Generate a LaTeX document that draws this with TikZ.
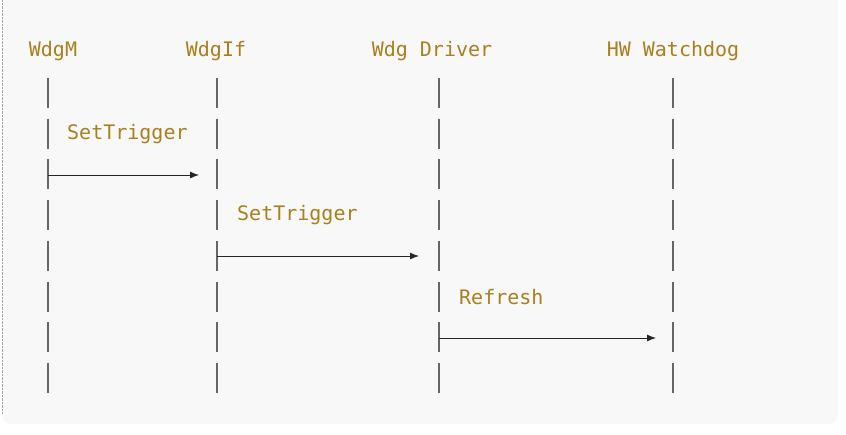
\documentclass[tikz,border=0pt]{standalone}
\usepackage{fontspec}
\setmonofont{DejaVu Sans Mono}
\usetikzlibrary{arrows.meta}
\definecolor{lbl}{HTML}{A8801E}
\definecolor{bg}{HTML}{F8F8F8}
\tikzset{
  actor/.style={font=\ttfamily\fontsize{20}{24}\selectfont, text=lbl, inner sep=0pt},
  msg/.style={font=\ttfamily\fontsize{20}{24}\selectfont, text=lbl, inner sep=0pt, anchor=west},
  life/.style={line width=1.6pt, draw=black!60, dash pattern=on 30pt off 10.7pt},
  call/.style={line width=0.9pt, draw=black!85, -{Latex[length=9pt,width=7pt]}}
}
\begin{document}
\begin{tikzpicture}[x=1pt, y=-1pt]
\useasboundingbox (0,0) rectangle (846,434);
\fill[bg, rounded corners=10pt] (2,-12) rectangle (838,424);
\draw[black!35, densely dotted] (2,0) -- (2,414);
% actors
\node[actor] (wdgm) at (53,51) {WdgM};
\node[actor] (wdgif) at (216,51) {WdgIf};
\node[actor] (drv) at (432,51) {Wdg Driver};
\node[actor] (hw) at (673,51) {HW Watchdog};
% lifelines
\coordinate (wdgm_t) at (48,78);   \coordinate (wdgm_b) at (48,393);
\coordinate (wdgif_t) at (217,78); \coordinate (wdgif_b) at (217,393);
\coordinate (drv_t) at (439,78);   \coordinate (drv_b) at (439,393);
\coordinate (hw_t) at (673,78);    \coordinate (hw_b) at (673,393);
\foreach \a in {wdgm, wdgif, drv, hw}
  \draw[life] (\a_t) -- (\a_b);
% messages
\coordinate (m1_s) at (48,175);  \coordinate (m1_e) at (199,175);
\coordinate (m2_s) at (217,256); \coordinate (m2_e) at (419,256);
\coordinate (m3_s) at (439,338); \coordinate (m3_e) at (656,338);
\node[msg] (m1) at (67,134) {SetTrigger};
\node[msg] (m2) at (237,215) {SetTrigger};
\node[msg] (m3) at (459,297) {Refresh};
\draw[call] (m1_s) -- (m1_e);
\draw[call] (m2_s) -- (m2_e);
\draw[call] (m3_s) -- (m3_e);
\end{tikzpicture}
\end{document}
